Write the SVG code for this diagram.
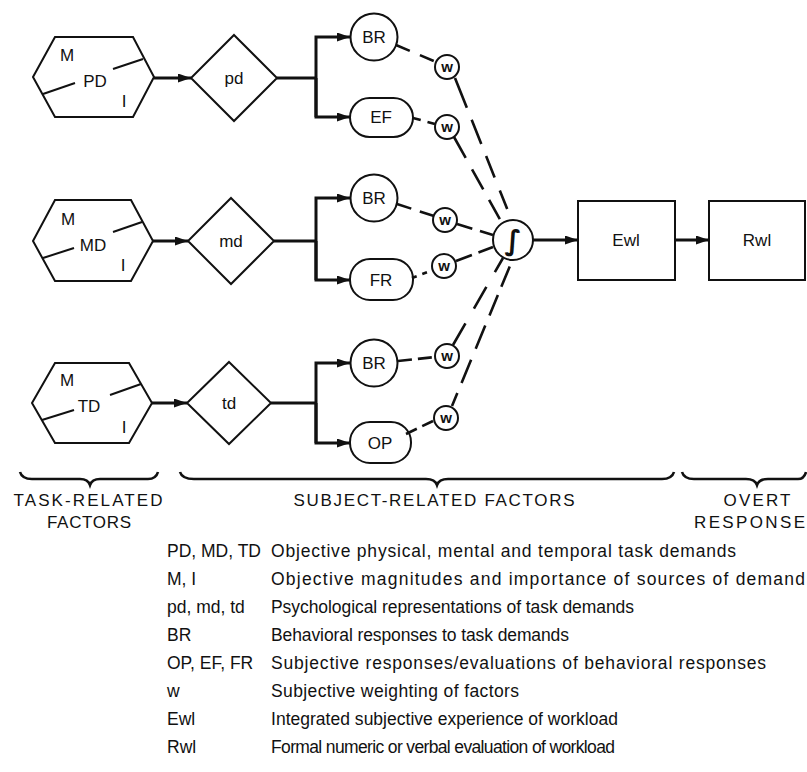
<svg xmlns="http://www.w3.org/2000/svg" width="807" height="772" viewBox="0 0 807 772">
<style>
  .shape{fill:#fff;stroke:#111;stroke-width:2}
  .thin{fill:none;stroke:#111;stroke-width:2}
  .conn{fill:none;stroke:#111;stroke-width:3}
  .dash{fill:none;stroke:#111;stroke-width:2.6}
  .brace{fill:none;stroke:#111;stroke-width:2.6}
  text{font-family:"Liberation Sans",Arial,sans-serif;fill:#111}
  .lab{font-size:17px;text-anchor:middle}
  .wl{font-size:15px;text-anchor:middle;font-weight:bold}
  .cat{font-size:17px;text-anchor:middle}
  .leg{font-size:17.5px}
</style>
<defs>
  <marker id="ah" markerUnits="userSpaceOnUse" markerWidth="14" markerHeight="10" refX="13" refY="4.5" orient="auto">
    <path d="M0,0 L13,4.5 L0,9 z" fill="#111"/>
  </marker>
</defs>
<rect width="807" height="772" fill="#fff"/>

<!-- Task-related hexagons -->
<g id="hex-pd">
  <polygon class="shape" points="55,37 133,37 154,77 133,117 55,117 33,77"/>
  <line class="thin" x1="113" y1="69" x2="143" y2="59"/>
  <line class="thin" x1="43" y1="94" x2="75" y2="83"/>
  <text class="lab" x="67" y="61">M</text>
  <text class="lab" x="95" y="87">PD</text>
  <text class="lab" x="124" y="107">I</text>
</g>
<g id="hex-md">
  <polygon class="shape" points="55,200 131,200 153,241 131,281 55,281 33,241"/>
  <line class="thin" x1="113" y1="232" x2="142" y2="222"/>
  <line class="thin" x1="43" y1="258" x2="74" y2="248"/>
  <text class="lab" x="68" y="225">M</text>
  <text class="lab" x="93" y="251">MD</text>
  <text class="lab" x="123" y="271">I</text>
</g>
<g id="hex-td">
  <polygon class="shape" points="55,363 129,363 152,403 129,443 55,443 32,403"/>
  <line class="thin" x1="110" y1="395" x2="141" y2="384"/>
  <line class="thin" x1="42" y1="420" x2="74" y2="410"/>
  <text class="lab" x="67" y="386">M</text>
  <text class="lab" x="89" y="412">TD</text>
  <text class="lab" x="124" y="433">I</text>
</g>

<!-- Diamonds -->
<g id="dia-pd">
  <polygon class="shape" points="234,35 277,78 234,121 191,78"/>
  <text class="lab" x="234" y="84">pd</text>
</g>
<g id="dia-md">
  <polygon class="shape" points="231,198 274,241 231,284 188,241"/>
  <text class="lab" x="231" y="247">md</text>
</g>
<g id="dia-td">
  <polygon class="shape" points="229,362 271,403 229,444 187,403"/>
  <text class="lab" x="229" y="409">td</text>
</g>

<!-- Subject responses -->
<g id="br1"><circle class="shape" cx="374" cy="37" r="23.5"/><text class="lab" x="374" y="43">BR</text></g>
<g id="ef"><rect class="shape" x="350" y="98" width="63" height="39" rx="19.5"/><text class="lab" x="381" y="123">EF</text></g>
<g id="br2"><circle class="shape" cx="374" cy="198" r="23.5"/><text class="lab" x="374" y="204">BR</text></g>
<g id="fr"><rect class="shape" x="350" y="259" width="63" height="41" rx="20"/><text class="lab" x="381" y="286">FR</text></g>
<g id="br3"><circle class="shape" cx="374" cy="363" r="23.5"/><text class="lab" x="374" y="369">BR</text></g>
<g id="op"><rect class="shape" x="350" y="422" width="61" height="41" rx="20"/><text class="lab" x="380" y="449">OP</text></g>

<!-- weights -->
<g id="w1"><circle class="shape" cx="447" cy="67" r="12"/><text class="wl" x="447" y="72">w</text></g>
<g id="w2"><circle class="shape" cx="447" cy="127" r="12"/><text class="wl" x="447" y="132">w</text></g>
<g id="w3"><circle class="shape" cx="445" cy="220" r="12"/><text class="wl" x="445" y="225">w</text></g>
<g id="w4"><circle class="shape" cx="444" cy="266" r="12"/><text class="wl" x="444" y="271">w</text></g>
<g id="w5"><circle class="shape" cx="447" cy="356" r="12"/><text class="wl" x="447" y="361">w</text></g>
<g id="w6"><circle class="shape" cx="446" cy="418" r="12"/><text class="wl" x="446" y="423">w</text></g>

<!-- integrator -->
<g id="integ">
  <circle class="shape" cx="513" cy="240" r="20"/>
  <text x="513" y="250" style="font-family:'DejaVu Sans',sans-serif;font-size:28px;font-weight:bold;text-anchor:middle">∫</text>
</g>

<g id="ewl"><rect class="shape" x="578" y="201" width="97" height="79"/><text class="lab" x="626" y="246">Ewl</text></g>
<g id="rwl"><rect class="shape" x="709" y="201" width="96" height="79"/><text class="lab" x="757" y="246">Rwl</text></g>

<!-- connectors -->
<g id="connectors">
  <line class="conn" x1="154" y1="78" x2="191" y2="78" marker-end="url(#ah)"/>
  <line class="conn" x1="153" y1="241" x2="188" y2="241" marker-end="url(#ah)"/>
  <line class="conn" x1="152" y1="403" x2="187" y2="403" marker-end="url(#ah)"/>

  <path class="conn" d="M277,78 H316"/>
  <path class="conn" d="M316,117 V37 H350" marker-end="url(#ah)"/>
  <path class="conn" d="M316,78 V117 H350" marker-end="url(#ah)"/>

  <path class="conn" d="M274,241 H316"/>
  <path class="conn" d="M316,280 V198 H350" marker-end="url(#ah)"/>
  <path class="conn" d="M316,241 V280 H350" marker-end="url(#ah)"/>

  <path class="conn" d="M271,403 H316"/>
  <path class="conn" d="M316,443 V363 H350" marker-end="url(#ah)"/>
  <path class="conn" d="M316,403 V443 H350" marker-end="url(#ah)"/>

  <!-- short dashed: source to weight -->
  <line class="dash" x1="396" y1="45" x2="436" y2="62" stroke-dasharray="15 11"/>
  <line class="dash" x1="413" y1="118" x2="435" y2="124" stroke-dasharray="8 7"/>
  <line class="dash" x1="397" y1="204" x2="434" y2="216" stroke-dasharray="15 9"/>
  <line class="dash" x1="412" y1="278" x2="433" y2="270" stroke-dasharray="5 6"/>
  <line class="dash" x1="398" y1="361" x2="435" y2="357" stroke-dasharray="14 6"/>
  <line class="dash" x1="406" y1="434" x2="435" y2="420" stroke-dasharray="12 6"/>

  <!-- long dashed: weight to integrator -->
  <line class="dash" x1="455" y1="78" x2="512" y2="221" stroke-dasharray="32 13 26 13 23 14 20"/>
  <line class="dash" x1="454" y1="137" x2="502" y2="223" stroke-dasharray="24 13 23 12 22"/>
  <line class="dash" x1="457" y1="224" x2="493" y2="235" stroke-dasharray="16 8"/>
  <line class="dash" x1="456" y1="261" x2="493" y2="247" stroke-dasharray="17 7"/>
  <line class="dash" x1="453" y1="345" x2="503" y2="258" stroke-dasharray="25 17"/>
  <line class="dash" x1="452" y1="406" x2="512" y2="261" stroke-dasharray="14 11 25 12 25 11 22 9 22"/>

  <line class="conn" x1="533" y1="240" x2="578" y2="240" marker-end="url(#ah)"/>
  <line class="conn" x1="675" y1="240" x2="709" y2="240" marker-end="url(#ah)"/>
</g>

<!-- braces -->
<g id="braces">
  <path class="brace" d="M20,472 Q22,479 32,479 H80 Q88,479 90,485 Q92,479 100,479 H148 Q156,479 158,472"/>
  <path class="brace" d="M180,472 Q182,479 194,479 H426 Q435,479 437,485 Q439,479 448,479 H662 Q672,479 674,472"/>
  <path class="brace" d="M682,472 Q684,479 694,479 H746 Q755,479 757,485 Q759,479 768,479 H798 Q804,479 806,472"/>
</g>

<g id="categories">
  <text class="cat" x="88" y="506" textLength="149" lengthAdjust="spacing">TASK-RELATED</text>
  <text class="cat" x="89" y="528" textLength="84" lengthAdjust="spacing">FACTORS</text>
  <text class="cat" x="434" y="506" textLength="281" lengthAdjust="spacing">SUBJECT-RELATED FACTORS</text>
  <text class="cat" x="757" y="506" textLength="67" lengthAdjust="spacing">OVERT</text>
  <text x="694" y="528" style="font-size:17px" textLength="111" lengthAdjust="spacing">RESPONSE</text>
</g>

<g id="legend">
  <text class="leg" x="167" y="557">PD, MD, TD</text>
  <text class="leg" x="271" y="557" textLength="465" lengthAdjust="spacing">Objective physical, mental and temporal task demands</text>
  <text class="leg" x="167" y="585">M, I</text>
  <text class="leg" x="271" y="585" textLength="534" lengthAdjust="spacing">Objective magnitudes and importance of sources of demand</text>
  <text class="leg" x="167" y="613">pd, md, td</text>
  <text class="leg" x="271" y="613" textLength="363" lengthAdjust="spacing">Psychological representations of task demands</text>
  <text class="leg" x="167" y="641">BR</text>
  <text class="leg" x="271" y="641" textLength="298" lengthAdjust="spacing">Behavioral responses to task demands</text>
  <text class="leg" x="167" y="669">OP, EF, FR</text>
  <text class="leg" x="271" y="669" textLength="495" lengthAdjust="spacing">Subjective responses/evaluations of behavioral responses</text>
  <text class="leg" x="167" y="697">w</text>
  <text class="leg" x="271" y="697" textLength="248" lengthAdjust="spacing">Subjective weighting of factors</text>
  <text class="leg" x="167" y="725">Ewl</text>
  <text class="leg" x="271" y="725" textLength="347" lengthAdjust="spacing">Integrated subjective experience of workload</text>
  <text class="leg" x="167" y="753">Rwl</text>
  <text class="leg" x="271" y="753" textLength="344" lengthAdjust="spacing">Formal numeric or verbal evaluation of workload</text>
</g>
</svg>
